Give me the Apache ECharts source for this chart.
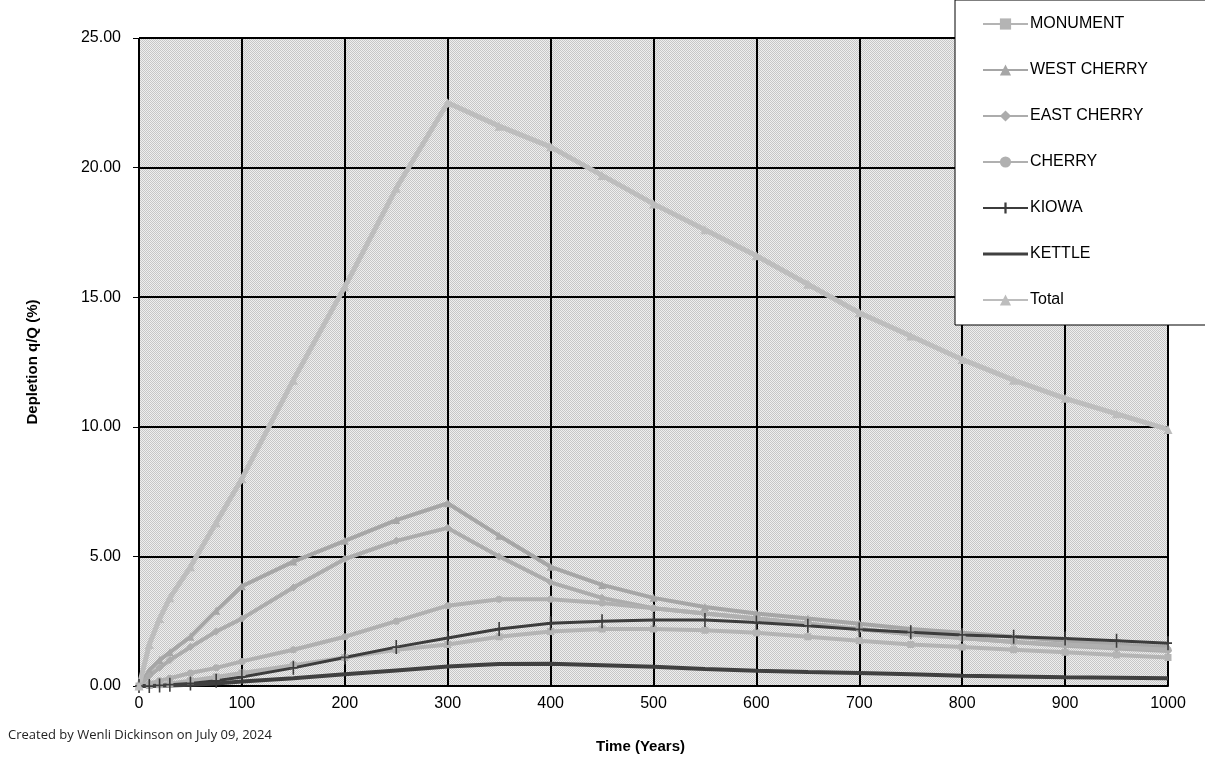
<!DOCTYPE html>
<html>
<head>
<meta charset="utf-8">
<title>Depletion q/Q</title>
<script src="https://cdn.jsdelivr.net/npm/echarts@6/dist/echarts.min.js"></script>
<style>
    body { margin: 0; background: #fff; }
    #main { width: 1205px; height: 761px; }
</style>
</head>
<body>
<div id="main"></div>
<script>
    // time steps (years)
    var years = [0, 10, 20, 30, 50, 75, 100, 150, 200, 250, 300, 350, 400, 450, 500, 550, 600, 650, 700, 750, 800, 850, 900, 950, 1000];

    // depletion q/Q (%) per stream
    var monument    = [0, 0.02, 0.05, 0.1, 0.2, 0.35, 0.5, 0.8, 1.1, 1.4, 1.6, 1.9, 2.1, 2.2, 2.2, 2.15, 2.05, 1.9, 1.75, 1.6, 1.5, 1.4, 1.3, 1.2, 1.1];
    var westCherry  = [0, 0.6, 1.0, 1.3, 1.9, 2.9, 3.85, 4.8, 5.6, 6.4, 7.05, 5.8, 4.6, 3.9, 3.4, 3.05, 2.8, 2.6, 2.4, 2.2, 2.05, 1.9, 1.75, 1.6, 1.5];
    var eastCherry  = [0, 0.4, 0.7, 1.0, 1.5, 2.1, 2.6, 3.8, 4.9, 5.6, 6.1, 5.0, 4.0, 3.4, 3.0, 2.8, 2.6, 2.4, 2.2, 2.0, 1.85, 1.7, 1.55, 1.45, 1.35];
    var cherry      = [0, 0.1, 0.2, 0.3, 0.5, 0.7, 0.95, 1.4, 1.9, 2.5, 3.1, 3.35, 3.35, 3.2, 3.0, 2.8, 2.6, 2.4, 2.2, 2.0, 1.85, 1.7, 1.6, 1.5, 1.4];
    var kiowa       = [0, 0.0, 0.02, 0.05, 0.1, 0.2, 0.35, 0.7, 1.1, 1.5, 1.85, 2.2, 2.42, 2.5, 2.55, 2.55, 2.45, 2.32, 2.18, 2.07, 1.97, 1.9, 1.83, 1.75, 1.65];
    var kettle      = [0, 0.0, 0.01, 0.02, 0.05, 0.1, 0.17, 0.3, 0.45, 0.6, 0.75, 0.85, 0.86, 0.8, 0.74, 0.66, 0.59, 0.54, 0.5, 0.45, 0.4, 0.37, 0.34, 0.32, 0.3];
    var total       = [0, 1.6, 2.6, 3.4, 4.6, 6.3, 8.0, 11.8, 15.4, 19.2, 22.5, 21.6, 20.8, 19.7, 18.6, 17.6, 16.6, 15.5, 14.4, 13.5, 12.6, 11.8, 11.1, 10.5, 9.9];

    var seriesNames = ['MONUMENT', 'WEST CHERRY', 'EAST CHERRY', 'CHERRY', 'KIOWA', 'KETTLE', 'Total'];
    var seriesValues = [monument, westCherry, eastCherry, cherry, kiowa, kettle, total];

    // axis ranges
    var yMin = 0, yMax = 25, yStep = 5;
    var xMin = 0, xMax = 1000, xStep = 100;

    function pairs(vals) {
        return years.map(function (t, i) { return [t, vals[i]]; });
    }

    // dithered gray fill like the old excel plot area
    function ditherPattern() {
        var c = document.createElement('canvas');
        c.width = 2; c.height = 2;
        var g = c.getContext('2d');
        g.fillStyle = '#eeeeee'; g.fillRect(0, 0, 2, 2);
        g.fillStyle = '#c6c6c6'; g.fillRect(0, 0, 1, 1); g.fillRect(1, 1, 1, 1);
        return { image: c, repeat: 'repeat' };
    }

    var styles = [
        { color: '#b4b4b4', width: 4, symbol: 'rect', size: 7 },
        { color: '#a6a6a6', width: 4, symbol: 'triangle', size: 8 },
        { color: '#acacac', width: 4, symbol: 'diamond', size: 8 },
        { color: '#b0b0b0', width: 4, symbol: 'circle', size: 7 },
        { color: '#3c3c3c', width: 3, symbol: 'path://M-1,-8H1V-1H5V1H1V8H-1V1H-5V-1H-1Z', size: [8, 14] },
        { color: '#404040', width: 4, symbol: 'none', size: 0 },
        { color: '#bdbdbd', width: 5, symbol: 'triangle', size: 9 }
    ];

    var series = seriesNames.map(function (name, i) {
        var s = styles[i];
        return {
            name: name,
            type: 'line',
            data: pairs(seriesValues[i]),
            symbol: s.symbol,
            symbolSize: s.size,
            showSymbol: s.symbol !== 'none',
            lineStyle: { color: s.color, width: s.width },
            itemStyle: { color: s.color },
            animation: false
        };
    });

    // kettle has no marker, so its legend key is just a thick bar
    // (tiny corner specks keep the bar from being stretched to full height)
    var barIcon = 'path://M0,0H0.01V0.01H0Z M0,5.5H45V8.5H0Z M44.99,13.99H45V14H44.99Z';
    var legendData = seriesNames.map(function (name) {
        return name === 'KETTLE' ? { name: name, icon: barIcon } : { name: name };
    });

    var option = {
        backgroundColor: '#fff',
        textStyle: { fontFamily: 'Liberation Sans, Arial, sans-serif' },
        grid: {
            left: 139, right: 37, top: 38, bottom: 75,
            show: true,
            backgroundColor: ditherPattern(),
            borderColor: '#9a9a9a',
            borderWidth: 1
        },
        legend: {
            orient: 'vertical',
            left: 955,
            top: 0,
            padding: [16, 60, 17, 27],
            itemWidth: 45,
            itemHeight: 14,
            itemGap: 30,
            backgroundColor: '#fff',
            borderColor: '#000',
            borderWidth: 1,
            borderRadius: 0,
            textStyle: { fontSize: 16, color: '#000', fontFamily: 'Liberation Sans, Arial, sans-serif', padding: [0, 0, 0, -3] },
            data: legendData
        },
        xAxis: {
            type: 'value',
            min: xMin, max: xMax, interval: xStep,
            name: 'Time (Years)',
            nameLocation: 'middle',
            nameGap: 53,
            nameTextStyle: { fontSize: 15, fontWeight: 'bold', color: '#000', padding: [0, 26, 0, 0] },
            axisLine: { lineStyle: { color: '#000', width: 2 } },
            axisTick: { show: false },
            axisLabel: {
                fontSize: 16, color: '#000', margin: 10,
                formatter: function (v) { return String(v); }
            },
            splitLine: { lineStyle: { color: '#000', width: 2 } }
        },
        yAxis: {
            type: 'value',
            min: yMin, max: yMax, interval: yStep,
            name: 'Depletion q/Q (%)',
            nameLocation: 'middle',
            nameRotate: 90,
            nameGap: 99,
            nameTextStyle: { fontSize: 15, fontWeight: 'bold', color: '#000' },
            axisLine: { show: true, lineStyle: { color: '#000', width: 1 } },
            axisTick: { show: true, length: 6, lineStyle: { color: '#000' } },
            axisLabel: {
                fontSize: 16, color: '#000', margin: 18,
                formatter: function (v) { return v.toFixed(2); }
            },
            splitLine: { lineStyle: { color: '#000', width: 2 } }
        },
        graphic: [{
            type: 'text',
            left: 8,
            top: 729,
            style: {
                text: 'Created by Wenli Dickinson on July 09, 2024',
                fontSize: 13,
                fontFamily: 'Open Sans, sans-serif',
                fill: '#222'
            }
        }],
        series: series
    };

    var chartDom = document.getElementById('main');
    var myChart = echarts.init(chartDom);
    myChart.setOption(option);
</script>
</body>
</html>
